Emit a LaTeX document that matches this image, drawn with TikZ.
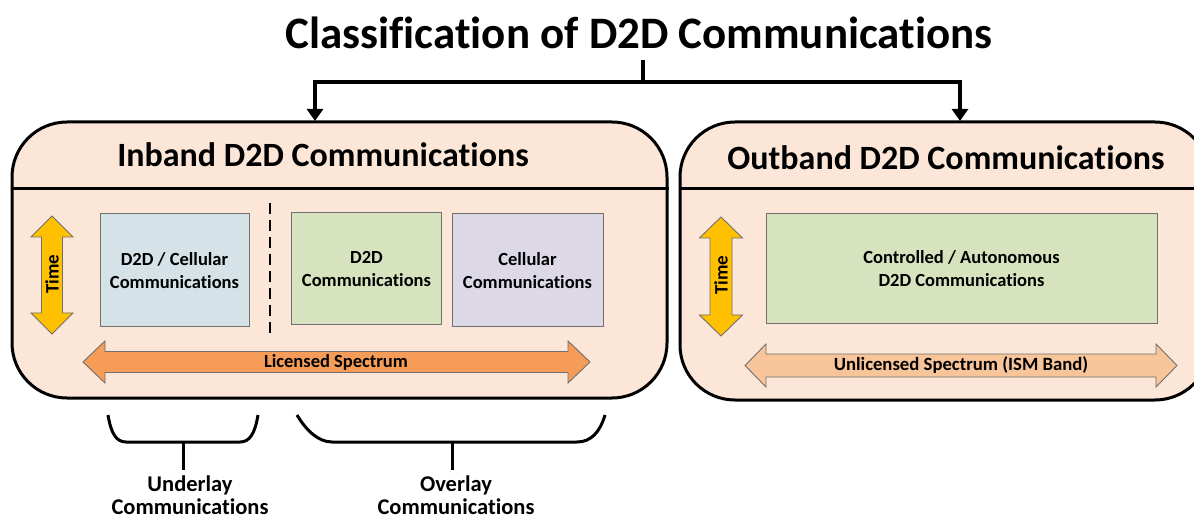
\documentclass[tikz,border=0pt]{standalone}
\usepackage{fontspec}
\setmainfont{Carlito}[Ligatures=NoCommon]
\usetikzlibrary{arrows.meta}
\definecolor{peach}{HTML}{FBE6D8}
\definecolor{timey}{HTML}{FFC000}
\definecolor{licor}{HTML}{F59D58}
\definecolor{unlor}{HTML}{F8C49A}
\definecolor{boxblue}{HTML}{D5E2E7}
\definecolor{boxgreen}{HTML}{D7E3BE}
\definecolor{boxpurple}{HTML}{DDD8E6}
\definecolor{edgegray}{HTML}{6F6F6F}
\newcommand\hdarrow[7]{%
\draw[arrowline, fill=#7] (#1,#3) -- (#1+#6,#3-#5) -- (#1+#6,#3-#4) -- (#2-#6,#3-#4) -- (#2-#6,#3-#5) -- (#2,#3) -- (#2-#6,#3+#5) -- (#2-#6,#3+#4) -- (#1+#6,#3+#4) -- (#1+#6,#3+#5) -- cycle;}
\newcommand\vdarrow[7]{%
\draw[arrowline, fill=#7] (#3,#1) -- (#3+#5,#1+#6) -- (#3+#4,#1+#6) -- (#3+#4,#2-#6) -- (#3+#5,#2-#6) -- (#3,#2) -- (#3-#5,#2-#6) -- (#3-#4,#2-#6) -- (#3-#4,#1+#6) -- (#3-#5,#1+#6) -- cycle;}
\begin{document}
\begin{tikzpicture}[x=1pt,y=-1pt,
  arrowline/.style={draw=edgegray, line width=0.9pt, line join=miter},
  bigbox/.style={draw=black, line width=3pt, fill=peach, rounded corners=55pt, inner sep=0pt},
  sbox/.style={draw=edgegray, line width=1pt, inner sep=0pt, align=center,
     font=\fontsize{18.5}{23}\selectfont\bfseries},
  conn/.style={line width=4pt},
  brace/.style={line width=3pt},
  bigtitle/.style={font=\fontsize{45}{54}\selectfont\bfseries, inner sep=0pt, anchor=base},
  boxtitle/.style={font=\fontsize{34}{40}\selectfont\bfseries, inner sep=0pt, anchor=base},
  lab/.style={font=\fontsize{18.5}{20}\selectfont\bfseries, inner sep=0pt},
  timelab/.style={font=\fontsize{19}{22}\selectfont\bfseries, inner sep=0pt, rotate=90},
  bottomlab/.style={font=\fontsize{22.5}{23.5}\selectfont\bfseries, inner sep=0pt, align=center}
]
\useasboundingbox (0,0) rectangle (1194,521);
\clip (0,0) rectangle (1194,521);
\fill[white] (0,0) rectangle (1194,521);

% title and connectors
\node[bigtitle] (title) at (639,49) {Classification of D2D Communications};
\coordinate (tj) at (643,60);
\coordinate (hj) at (643,82);
\coordinate (inTop) at (315,121);
\coordinate (outTop) at (960,121);
\draw[conn, -{Triangle[width=16pt,length=12pt]}] (tj) -- (hj) -| (inTop);
\draw[conn, -{Triangle[width=16pt,length=12pt]}] (hj) -| (outTop);

% big boxes
\node[bigbox, minimum width=655pt, minimum height=276pt] (inband) at (339.5,260) {};
\draw[line width=3pt] (inband.west |- 0,189) -- (inband.east |- 0,189);
\node[bigbox, minimum width=530pt, minimum height=278pt] (outband) at (945,261) {};
\draw[line width=3pt] (outband.west |- 0,189) -- (outband.east |- 0,189);
\node[boxtitle] (intitle) at (323,167) {Inband D2D Communications};
\node[boxtitle] (outtitle) at (946,170) {Outband D2D Communications};

% inband contents
\vdarrow{216}{334}{52}{10.5}{21}{21}{timey}
\node[timelab] (time1) at (52,274) {Time};
\node[sbox, fill=boxblue, minimum width=149pt, minimum height=113pt] (b1) at (174.5,270.5) {D2D / Cellular\\Communications};
\coordinate (d1) at (270,203);
\coordinate (d2) at (270,333);
\draw[line width=2pt, dash pattern=on 11pt off 6pt] (d1) -- (d2);
\node[sbox, fill=boxgreen, minimum width=150pt, minimum height=112pt] (b2) at (366.5,269) {D2D\\Communications};
\node[sbox, fill=boxpurple, minimum width=151pt, minimum height=113pt] (b3) at (527.5,270.5) {Cellular\\Communications};
\hdarrow{83}{590}{362}{10.5}{21}{22}{licor}
\node[lab] (lic) at (336,362) {Licensed Spectrum};

% outband contents
\vdarrow{217}{336}{721}{11}{21.5}{21}{timey}
\node[timelab] (time2) at (721,275) {Time};
\node[sbox, fill=boxgreen, minimum width=391pt, minimum height=110pt] (b4) at (961.5,269) {Controlled / Autonomous\\D2D Communications};
\hdarrow{745}{1177}{365.5}{11.5}{21.5}{21}{unlor}
\node[lab, font=\fontsize{18.7}{20}\selectfont\bfseries] (unl) at (961,365.5) {Unlicensed Spectrum (ISM Band)};

% braces
\coordinate (u1) at (108,415);
\coordinate (u2) at (258,415);
\coordinate (um) at (183,442);
\coordinate (ub) at (183,470);
\draw[brace] (u1) .. controls (111,433) and (116,442) .. (126,442) -- (240,442) .. controls (250,442) and (255,433) .. (u2);
\draw[brace] (um) -- (ub);
\coordinate (o1) at (297,415);
\coordinate (o2) at (605,415);
\coordinate (om) at (452,442);
\coordinate (ob) at (452,470);
\draw[brace] (o1) .. controls (306,430) and (318,442) .. (332,442) -- (577,442) .. controls (591,442) and (600,432) .. (o2);
\draw[brace] (om) -- (ob);
\node[bottomlab] (under) at (190,495) {Underlay\\Communications};
\node[bottomlab] (over) at (456,495) {Overlay\\Communications};
\end{tikzpicture}
\end{document}
